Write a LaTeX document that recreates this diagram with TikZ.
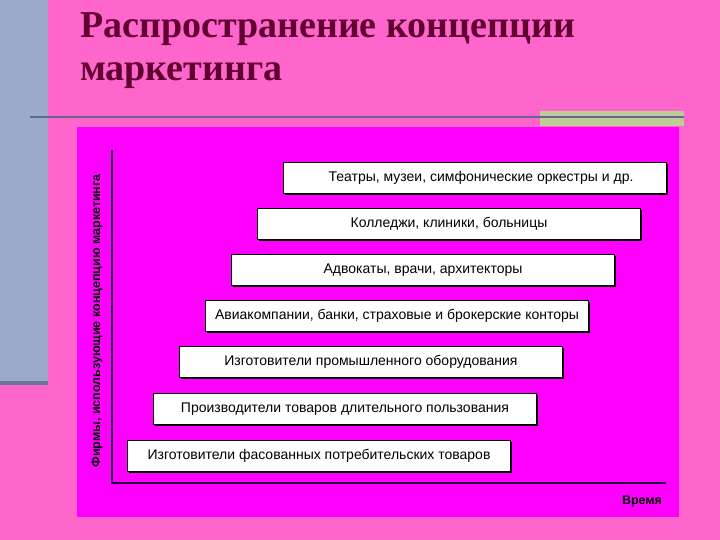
\documentclass[tikz,border=0pt]{standalone}
\usepackage{fontspec}
\setmainfont{Liberation Serif}
\setsansfont{Liberation Sans}
\usetikzlibrary{shadows}
\definecolor{pinkbg}{RGB}{255,102,204}
\definecolor{stripblue}{RGB}{153,170,204}
\definecolor{stripedge}{RGB}{102,119,153}
\definecolor{rulecol}{RGB}{102,102,140}
\definecolor{khaki}{RGB}{192,204,150}
\definecolor{panelcol}{RGB}{255,0,255}
\definecolor{titlecol}{RGB}{95,0,48}
\definecolor{axiscol}{RGB}{40,0,70}
\tikzset{
	firmbox/.style={draw=black, line width=1.1pt, fill=white, minimum width=383pt, minimum height=31pt, inner sep=0pt,
		font=\sffamily\fontsize{14}{16}\selectfont,
		drop shadow={shadow xshift=1.4pt, shadow yshift=-1.4pt, fill=black, opacity=1}},
	axislabel/.style={font=\sffamily\bfseries\fontsize{12.5}{14}\selectfont, inner sep=0pt},
	titletext/.style={anchor=base west, inner sep=0pt, text=titlecol, font=\bfseries\fontsize{38}{44}\selectfont}
}

\begin{document}
\begin{tikzpicture}[x=1pt, y=-1pt]
			%%%%% START %%%%%
			\useasboundingbox (0, 0) rectangle (720, 540);
			\fill[pinkbg] (0, 0) rectangle (720, 540);
			
			\fill[stripblue] (0, 0) rectangle (48, 385);
			\fill[stripedge] (0, 381) rectangle (48, 385);
			
			\node[titletext] (title) at (80, 38) {Распространение концепции};
			\node[titletext] (title2) at (80, 81) {маркетинга};
			
			\fill[khaki] (540, 111) rectangle (684, 126);
			\draw[line width=2pt, color=rulecol] (30, 117.5) -- (684, 117.5);
			
			\fill[panelcol] (77, 127) rectangle (679, 517);
			
			\coordinate (ytop) at (112, 150);
			\coordinate (origin) at (112, 483);
			\coordinate (xend) at (666, 483);
			\draw[line width=1.1pt, color=axiscol] (ytop) -- (origin) -- (xend);
			
			\node[axislabel, rotate=90] (firms) at (97, 321) {Фирмы, использующие концепцию маркетинга};
			\node[axislabel] (time) at (642, 501) {Время};
			
			\node[firmbox] (theatres) at (475, 178) {\hspace*{12pt}Театры, музеи, симфонические оркестры и др.};
			\node[firmbox] (colleges) at (449, 224) {Колледжи, клиники, больницы};
			\node[firmbox] (lawyers) at (423, 270) {Адвокаты, врачи, архитекторы};
			\node[firmbox] (airlines) at (397, 316) {Авиакомпании, банки, страховые и брокерские конторы};
			\node[firmbox] (industrial) at (371, 362) {Изготовители промышленного оборудования};
			\node[firmbox] (durables) at (345, 409) {Производители товаров длительного пользования};
			\node[firmbox] (packaged) at (319, 456) {Изготовители фасованных потребительских товаров};
			
			%%%%% END %%%%%
\end{tikzpicture}
\end{document}
